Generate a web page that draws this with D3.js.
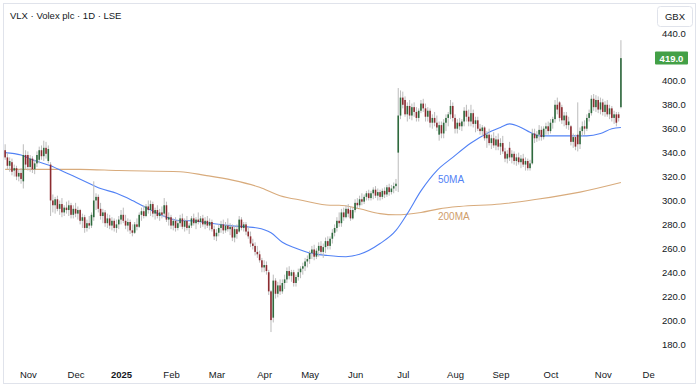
<!DOCTYPE html>
<html>
<head>
<meta charset="utf-8">
<script src="https://cdn.jsdelivr.net/npm/d3@7"></script>
<style>
  html, body { margin: 0; padding: 0; background: #fff; }
  svg { display: block; font-family: "Liberation Sans", Arial, sans-serif; }
</style>
</head>
<body>
<svg id="chart" width="700" height="389"></svg>
<script>
// VLX daily candles, 18 Oct 2024 .. 13 Nov 2025 (one entry per trading day)
const opens = [
  342,336,329,332,325,327,320,323,316,338,                                   // Oct
  338,328,335,326,331,334,342,337,344,333,330,300,296,301,293,297,290,294,292,296,288, // Nov
  293,289,292,283,286,277,281,279,286,300,303,293,287,290,281,285,279,283,277,280,     // Dec
  284,288,283,279,282,275,273,280,278,288,291,287,295,292,297,289,292,287,290,289,296,284, // Jan
  286,279,283,277,281,285,278,283,277,279,285,281,284,282,285,280,283,279,282,276,     // Feb
  270,273,277,280,275,279,276,278,269,276,274,284,277,280,274,270,264,262,257,255,250, // Mar
  244,246,240,224,202,233,222,229,224,231,234,241,237,240,231,236,240,243,245,249,     // Apr
  251,256,259,253,258,262,257,261,266,262,268,273,277,283,281,290,286,293,292,285,     // May
  292,298,296,301,299,303,306,302,306,309,304,307,303,308,305,311,307,310,312,340,371, // Jun
  386,384,372,379,371,378,374,369,375,381,377,370,375,365,369,365,355,363,356,365,369,372,379, // Jul
  369,360,365,362,366,375,370,366,373,364,367,360,358,361,352,355,348,352,346,351,     // Aug
  345,348,341,335,344,336,339,333,336,332,335,330,333,327,331,356,352,355,359,353,360,362, // Sep
  358,365,368,380,382,378,367,371,363,362,349,353,355,347,358,362,360,369,373,385,378,384,376, // Oct
  382,374,380,372,377,369,372,372,378                                        // Nov
];
const highs = [
  347,340,336,335,330,329,326,327,347,342,
  341,338,337,334,341,345,346,350,349,346,332,305,303,304,300,302,296,299,300,298,296,
  298,295,293,289,288,284,287,290,316,306,305,298,293,292,289,288,286,285,284,287,
  292,294,288,285,284,280,282,285,290,294,296,297,300,300,299,294,296,293,295,302,299,290,
  288,285,286,284,288,289,285,287,281,287,289,286,290,287,288,286,287,285,284,279,
  276,280,283,284,282,285,281,280,279,280,287,286,282,282,278,274,268,265,262,258,252,
  250,249,242,225,238,235,232,234,234,238,244,245,242,242,238,243,245,248,252,254,
  258,262,263,260,265,266,264,269,270,270,276,280,286,290,293,294,296,297,295,294,
  301,302,304,306,305,308,309,308,311,312,310,309,310,311,313,314,313,315,318,394,392,
  391,387,382,384,381,382,378,377,384,385,381,378,377,372,374,371,366,366,368,372,374,384,382,
  372,368,369,368,378,380,376,380,376,370,370,364,363,362,358,360,355,357,354,356,
  352,354,344,342,349,342,341,339,340,338,339,336,335,334,360,360,358,363,362,362,365,366,
  368,370,384,386,383,380,374,374,370,363,356,355,382,361,366,367,372,376,388,389,388,387,386,
  385,383,384,380,379,375,374,374,434
];
const lows = [
  334,326,324,321,320,317,316,314,310,326,
  325,324,323,322,328,331,334,333,335,331,287,290,289,291,288,286,287,289,287,285,285,
  286,284,280,277,273,274,276,277,283,292,290,284,281,278,277,276,275,274,273,276,
  280,281,276,274,272,270,272,275,277,283,285,286,289,287,286,284,285,283,285,286,282,279,
  276,275,274,275,278,276,274,275,272,277,279,276,280,277,278,276,277,275,274,267,
  266,270,273,272,273,274,271,266,265,268,273,275,274,271,268,261,259,254,252,248,240,
  240,238,221,190,198,218,219,221,222,226,231,234,232,228,228,233,235,238,241,244,
  247,251,250,251,253,255,252,256,259,259,264,270,274,278,278,283,285,286,283,284,
  290,293,294,296,297,300,300,300,301,302,300,300,301,302,303,304,305,306,308,307,368,
  377,370,366,368,367,370,366,366,373,374,366,366,361,360,362,358,350,352,352,358,362,368,366,
  356,356,359,358,362,366,362,362,361,357,358,355,354,350,344,346,343,344,342,342,
  338,339,332,331,333,331,330,329,330,327,328,325,325,325,330,348,349,350,350,351,355,355,
  356,360,365,372,366,364,362,360,359,346,344,342,341,343,354,355,358,366,371,375,374,373,372,
  371,370,370,368,366,364,362,366,377
];
const closes = [
  336,329,333,324,327,320,323,318,338,330,
  328,335,326,331,338,342,337,344,339,343,300,296,301,293,297,290,294,292,296,288,293,
  289,292,283,286,277,281,279,288,300,303,293,287,290,281,285,279,283,277,280,284,
  288,283,279,282,275,273,280,278,288,291,287,295,292,297,289,292,287,290,288,296,284,286,
  279,283,277,281,285,278,283,277,279,285,281,284,282,285,280,283,279,282,276,270,
  273,277,280,275,279,276,278,269,276,272,284,277,280,274,270,264,262,257,255,250,244,
  246,241,224,200,233,222,229,224,231,234,241,237,240,231,236,240,243,245,249,251,
  256,259,253,258,262,257,261,266,262,268,273,277,283,281,290,286,293,289,285,292,
  298,296,301,299,303,306,302,306,309,304,307,303,308,305,311,307,310,312,314,371,386,
  380,372,379,371,378,374,369,375,381,377,370,375,365,369,365,361,363,356,365,369,372,379,369,
  360,365,362,366,375,370,366,373,364,367,360,358,361,352,355,348,352,346,351,345,
  348,341,335,339,336,339,333,336,332,335,330,333,327,331,356,352,355,359,353,360,362,358,
  365,368,380,376,369,367,371,363,366,349,353,345,347,358,362,360,369,373,385,378,384,376,382,
  374,380,372,377,369,372,365,369,419
];

// moving averages (bar index -> value)
const ma50Idx = [0,7,12,20,27,34,42,49,56,64,71,77,81,90,99,111,117,122,128,134,142,150,156,165,172,177,183,190,197,205,212,218,222,227,231,235,240,249,256,262,267,271];
const ma50Val = [340,338,334,329,323,317,310,306,300,292,286,283,283,281,279,277,273,265,260,256,254,253,255,264,275,289,308,325,336,348,356,361,364,361,357,354,354,354,354,356,360,361];
const ma200Idx = [0,15,33,50,77,88,100,112,121,131,143,147,156,165,172,183,191,200,218,234,253,271];
const ma200Val = [326,326,326,325,324,321,317,311,304,300,296,296,293,289,288,290,293,295,297,301,307,315];

// first trading day of each month (bar index) and the axis labels
const monthIdx = [10,31,51,73,93,114,134,154,175,198,218,240,263,283];
const monthLabels = ['Nov','Dec','2025','Feb','Mar','Apr','May','Jun','Jul','Aug','Sep','Oct','Nov','De'];
// 420.0 is hidden behind the last-price tag
const priceTicks = [180,200,220,240,260,280,300,320,340,360,380,400,440];

const GREEN = '#2e6a3d', RED = '#8c2b30', WICK = '#bcbcbc';
const BLUE = '#5282f5', TAN = '#d8ab7c';

const svg = d3.select('#chart');

const xs = d3.scaleLinear().domain([-0.5, 286]).range([4, 655]);
const ys = d3.scaleLinear().domain([180, 440]).range([344, 33]);

const bars = closes.map((c, i) => ({
  i, o: opens[i], c,
  h: Math.max(highs[i], opens[i], c),
  l: Math.min(lows[i], opens[i], c)
}));

// outer frame
svg.append('rect')
  .attr('x', 3.5).attr('y', 3.5).attr('width', 692).attr('height', 380)
  .attr('fill', '#fff').attr('stroke', '#e0e3eb');

// title
svg.append('text')
  .attr('x', 10).attr('y', 19)
  .attr('font-size', 9.5).attr('fill', '#131722')
  .text('VLX · Volex plc · 1D · LSE');

// MAs
const maLine = d3.line()
  .x(d => xs(d[0]))
  .y(d => ys(d[1]))
  .curve(d3.curveMonotoneX);

svg.append('path')
  .datum(ma200Idx.map((d, k) => [d, ma200Val[k]]))
  .attr('fill', 'none').attr('stroke', TAN).attr('stroke-width', 1.1)
  .attr('d', maLine);

svg.append('path')
  .datum(ma50Idx.map((d, k) => [d, ma50Val[k]]))
  .attr('fill', 'none').attr('stroke', BLUE).attr('stroke-width', 1.1)
  .attr('d', maLine);

// candles
const g = svg.append('g');
g.selectAll('.wick')
  .data(bars)
  .enter()
  .append('rect')
  .attr('class', 'wick')
  .attr('x', d => xs(d.i) - 0.5)
  .attr('width', 1)
  .attr('y', d => ys(d.h))
  .attr('height', d => Math.max(1, ys(d.l) - ys(d.h)))
  .attr('fill', WICK);

g.selectAll('.body')
  .data(bars)
  .enter()
  .append('rect')
  .attr('class', 'body')
  .attr('x', d => xs(d.i) - 0.8)
  .attr('width', 1.6)
  .attr('y', d => ys(Math.max(d.o, d.c)))
  .attr('height', d => Math.max(1, Math.abs(ys(d.o) - ys(d.c))))
  .attr('fill', d => d.c >= d.o ? GREEN : RED);

// MA labels
svg.append('text')
  .attr('x', xs(190.5)).attr('y', ys(314.5))
  .attr('font-size', 10).attr('fill', BLUE)
  .text('50MA');
svg.append('text')
  .attr('x', xs(190.5)).attr('y', ys(283.5))
  .attr('font-size', 10).attr('fill', '#cf9d6b')
  .text('200MA');

// price axis
const yAxis = svg.append('g')
  .attr('transform', 'translate(662,0)')
  .call(d3.axisRight(ys).tickValues(priceTicks).tickFormat(d3.format('.1f')).tickSize(0).tickPadding(0));
yAxis.select('.domain').remove();
yAxis.selectAll('text').attr('font-size', 9.5).attr('fill', '#131722')
  .attr('font-family', '"Liberation Sans", Arial, sans-serif');

// time axis
const xAxis = svg.append('g')
  .attr('transform', 'translate(0,371)')
  .call(d3.axisBottom(xs).tickValues(monthIdx).tickFormat((d, k) => monthLabels[k]).tickSize(0).tickPadding(0));
xAxis.select('.domain').remove();
xAxis.selectAll('text').attr('font-size', 9.5).attr('fill', '#131722')
  .attr('font-family', '"Liberation Sans", Arial, sans-serif')
  .attr('font-weight', (d, k) => monthLabels[k] === '2025' ? 'bold' : null);

// currency box
svg.append('rect')
  .attr('x', 657.5).attr('y', 6.5).attr('width', 35).attr('height', 20).attr('rx', 3)
  .attr('fill', '#fff').attr('stroke', '#e0e3eb');
svg.append('text')
  .attr('x', 675).attr('y', 20)
  .attr('text-anchor', 'middle').attr('font-size', 9.5).attr('fill', '#131722')
  .text('GBX');

// last price tag
const last = closes[closes.length - 1];
svg.append('rect')
  .attr('x', 655).attr('y', ys(last) - 6.5).attr('width', 33).attr('height', 13).attr('rx', 1)
  .attr('fill', '#43a047');
svg.append('text')
  .attr('x', 671.5).attr('y', ys(last) + 3.5)
  .attr('text-anchor', 'middle').attr('font-size', 9.5).attr('font-weight', 'bold').attr('fill', '#fff')
  .text(d3.format('.1f')(last));
</script>
</body>
</html>
